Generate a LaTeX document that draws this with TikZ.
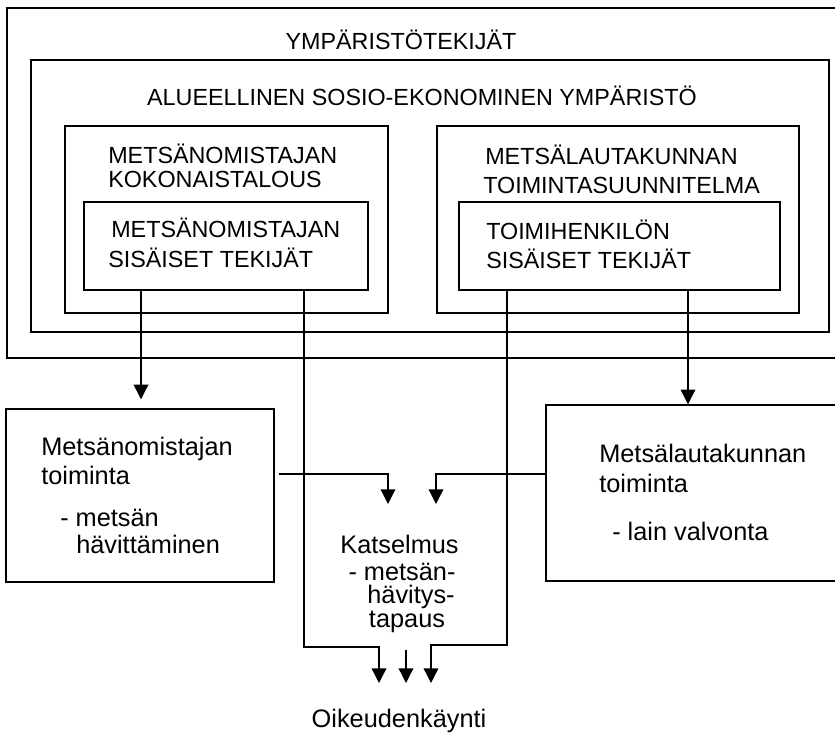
\documentclass[tikz,border=0pt]{standalone}
\usepackage{fontspec}
\setmainfont{Liberation Sans}
\usetikzlibrary{arrows.meta}
\begin{document}
\begin{tikzpicture}[x=0.75pt,y=-0.75pt,
  frame/.style 2 args={draw, line width=1.1pt, minimum width=#1*0.75pt, minimum height=#2*0.75pt, inner sep=0pt},
  captext/.style={font=\fontsize{17.5pt}{21pt}\selectfont, anchor=base west, inner sep=0pt},
  captextc/.style={captext, anchor=base},
  lowtext/.style={font=\fontsize{19pt}{22pt}\selectfont, anchor=base west, inner sep=0pt},
  lowtextc/.style={lowtext, anchor=base},
  conn/.style={line width=1pt},
  arr/.style={conn, -{Triangle[width=11pt,length=11pt]}}]
\useasboundingbox (0,0) rectangle (835,735);
\clip (0,0) rectangle (835,735);
\fill[white] (0,0) rectangle (835,735);

% boxes
\node[frame={838}{350}] (outer) at (426,183) {};
\node[frame={798}{272}] (reg) at (430,196) {};
\node[frame={323}{187}] (lo) at (226.5,219.5) {};
\node[frame={284}{88}] (li) at (226,246) {};
\node[frame={362}{187}] (ro) at (618,219.5) {};
\node[frame={321}{88}] (ri) at (619.5,246) {};
\node[frame={268}{173}] (bl) at (140,495.5) {};
\node[frame={299}{176}] (br) at (695.5,493) {};

% texts
\node[captextc] (t0) at (401,50) {YMPÄRISTÖTEKIJÄT};
\node[captextc] (t1) at (422,105) {ALUEELLINEN SOSIO-EKONOMINEN YMPÄRISTÖ};
\node[captext] (t2a) at (108,163) {METSÄNOMISTAJAN};
\node[captext] (t2b) at (108,187) {KOKONAISTALOUS};
\node[captext] (t3a) at (485,164) {METSÄLAUTAKUNNAN};
\node[captext] (t3b) at (483,193) {TOIMINTASUUNNITELMA};
\node[captext] (t4a) at (111,237) {METSÄNOMISTAJAN};
\node[captext] (t4b) at (108,267) {SISÄISET TEKIJÄT};
\node[captext] (t5a) at (486,239) {TOIMIHENKILÖN};
\node[captext] (t5b) at (486,268) {SISÄISET TEKIJÄT};
\node[lowtext] (t6a) at (41,455) {Metsänomistajan};
\node[lowtext] (t6b) at (41,484) {toiminta};
\node[lowtext] (t6c) at (60,526) {- metsän};
\node[lowtext] (t6d) at (76,553) {hävittäminen};
\node[lowtext] (t7a) at (599,462) {Metsälautakunnan};
\node[lowtext] (t7b) at (599,492) {toiminta};
\node[lowtext] (t7c) at (612,540) {- lain valvonta};
\node[lowtextc] (k0) at (399.5,553) {Katselmus};
\node[lowtextc] (k1t) at (402,580) {- metsän-};
\node[lowtextc] (k2t) at (411,603) {hävitys-};
\node[lowtextc] (k3t) at (407,627) {tapaus};
\node[lowtextc] (oik) at (399,727) {Oikeudenkäynti};

% coordinates
\coordinate (xa) at (141,0);
\coordinate (xb) at (304,0);
\coordinate (xc) at (507,0);
\coordinate (xd) at (688,0);
\coordinate (h1) at (0,474);
\coordinate (ka) at (388,504);
\coordinate (kb) at (436,504);
\coordinate (o1) at (379,683);
\coordinate (o2) at (406,683);
\coordinate (o3) at (431,683);
\coordinate (m0) at (406,650);
\coordinate (ya) at (0,647);
\coordinate (yb) at (0,645);

% connectors
\draw[arr, shorten >=6.75pt] (li.south -| xa) -- (bl.north -| xa);
\draw[arr] (ri.south -| xd) -- (br.north -| xd);
\draw[arr] ([xshift=3pt]bl.east |- h1) -| (ka);
\draw[arr] (br.west |- h1) -| (kb);
\draw[arr] (li.south -| xb) |- (o1 |- ya) -- (o1);
\draw[arr] (ri.south -| xc) |- (o3 |- yb) -- (o3);
\draw[arr] (m0) -- (o2);
\end{tikzpicture}
\end{document}
